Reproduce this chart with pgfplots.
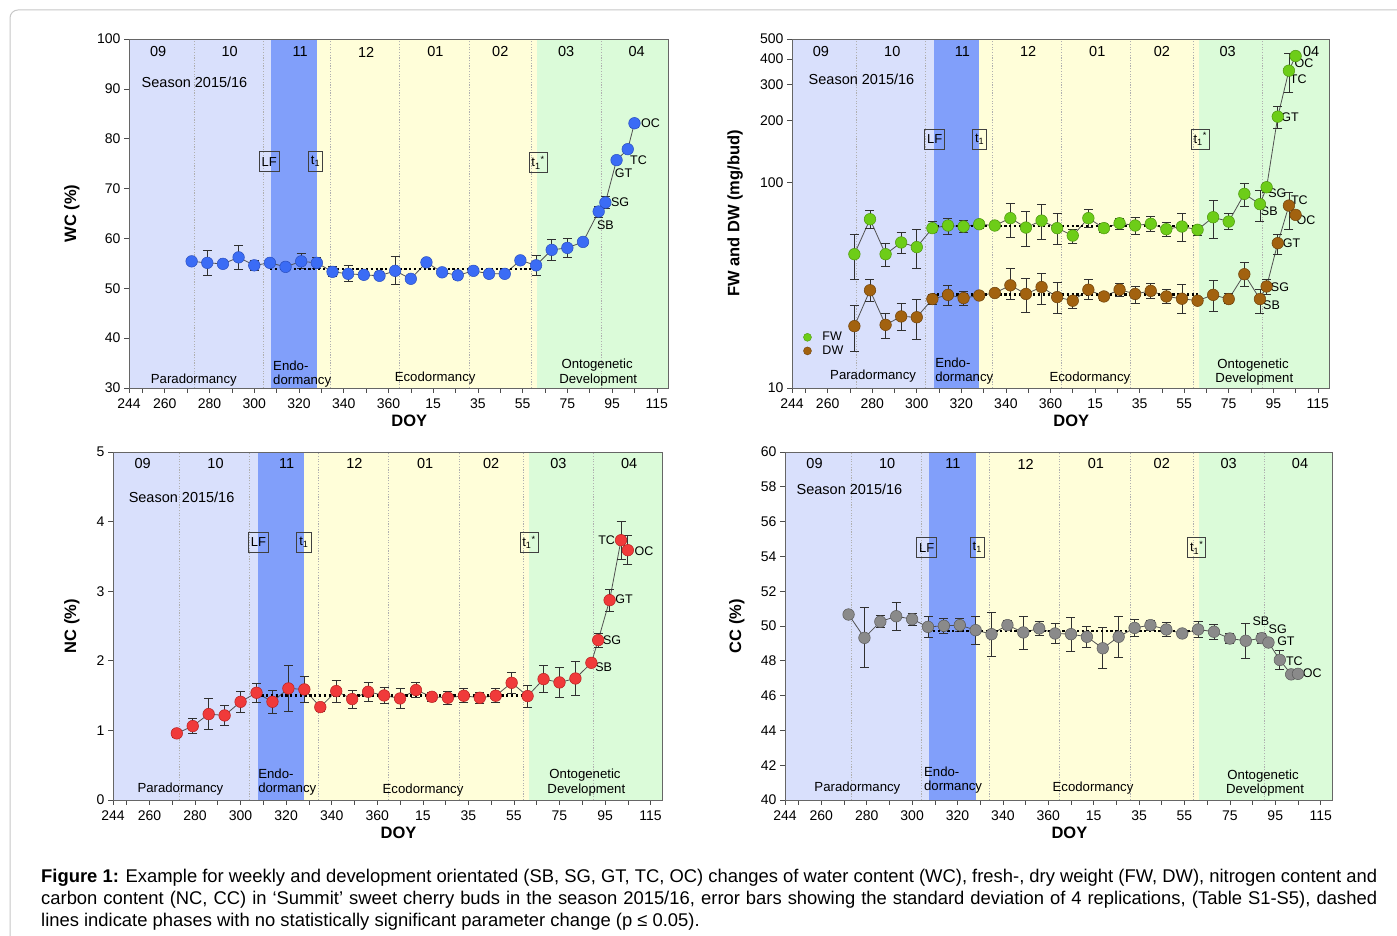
\documentclass[border=0pt]{standalone}
\usepackage{fontspec}
\setmainfont{Liberation Sans}
\setsansfont{Liberation Sans}
\usepackage{pgfplots}
\pgfplotsset{compat=1.18}
\usepackage{pgfplotstable}

\definecolor{cPara}{HTML}{D9E0FC}
\definecolor{cEndo}{HTML}{819FFA}
\definecolor{cEco}{HTML}{FFFED9}
\definecolor{cOnto}{HTML}{DBFBD9}
\definecolor{cBlue}{HTML}{3B6CF5}
\definecolor{cBlueD}{HTML}{2A4FC0}
\definecolor{cRed}{HTML}{F03A3A}
\definecolor{cRedD}{HTML}{B82020}
\definecolor{cGreen}{HTML}{6DCD18}
\definecolor{cGreenD}{HTML}{4C960E}
\definecolor{cBrown}{HTML}{A2620F}
\definecolor{cBrownD}{HTML}{6E420A}
\definecolor{cGray}{HTML}{8A8A8A}
\definecolor{cGrayD}{HTML}{5A5A5A}
\definecolor{cLine}{HTML}{505050}
\definecolor{cErr}{HTML}{303030}
\definecolor{cMonth}{HTML}{B0B0B0}

\newcommand\fs[1]{\fontsize{#1}{#1}\selectfont}

\pgfplotstableread{
x y e
272 55.4 0.3
279 55.1 2.5
286 54.9 0.3
293 56.2 2.4
300 54.6 1.0
307 55.1 0.5
314 54.3 0.3
321 55.4 1.5
328 55.1 1.1
335 53.3 1.0
342 52.9 1.6
349 52.7 0.7
356 52.5 0.8
363 53.5 2.8
370 51.9 0.3
377 55.2 0.5
384 53.2 0.3
391 52.6 0.8
398 53.5 0.4
405 52.9 0.6
412 52.9 0.5
419 55.6 0.4
426 54.6 2.0
433 57.7 2.1
440 58.1 2.0
447 59.3 0.6
454 65.4 1.1
457 67.2 1.2
462 75.7 0.4
467 77.9 0.4
470 83.1 0.8
}\wctab

\pgfplotstableread{
x y ep em
272 44.8 11.3 10.9
279 66.3 6.5 6.3
286 44.8 5.9 5.8
293 51.1 5.8 6.1
300 48.5 10.4 10.1
307 60.0 4.4 3.1
314 61.8 5.2 5.9
321 61.1 4.6 4.2
328 62.7 2.4 2.7
335 61.8 1.0 1.0
342 67.1 12.1 13.0
349 60.4 11.9 11.6
356 65.3 13.0 12.7
363 60.0 11.0 10.2
370 55.2 3.7 4.5
377 67.1 7.1 6.7
384 60.0 3.4 3.1
391 63.4 3.6 4.5
398 61.8 5.8 5.7
405 63.0 5.3 5.2
412 59.3 4.6 4.7
419 61.1 9.9 9.5
426 58.9 2.7 3.8
433 67.8 13.8 14.3
440 64.6 6.4 5.3
447 88.1 10.8 11.7
454 78.5 12.9 13.9
457 94.9 4.0 5.2
462 209.4 24.8 25.8
467 350.5 75.0 76.7
470 413.0 12.0 12.0
}\fwtab

\pgfplotstableread{
x y ep em
272 20.0 5.1 5.0
279 29.9 3.7 3.5
286 20.3 2.7 2.9
293 22.3 3.4 3.2
300 22.1 4.8 4.9
307 27.1 1.5 1.5
314 28.4 3.2 3.3
321 27.4 2.1 2.3
328 28.2 0.8 0.8
335 29.0 0.8 0.8
342 31.6 6.7 4.7
349 28.7 5.6 5.3
356 31.0 5.2 5.4
363 27.7 5.0 4.7
370 26.6 1.3 2.1
377 30.1 3.5 3.2
384 27.9 1.4 1.2
391 30.1 2.1 2.2
398 28.7 2.5 2.8
405 29.7 2.7 2.3
412 27.9 2.4 2.2
419 27.2 4.6 4.2
426 26.6 0.7 0.7
433 28.4 5.0 4.8
440 27.1 1.9 1.4
447 35.8 5.0 4.6
454 27.1 3.0 3.9
457 31.2 2.4 2.5
462 50.7 5.0 6.2
467 77.3 12.0 18.0
470 69.6 2.0 2.0
}\dwtab

\pgfplotstableread{
x y e
272 0.957 0.06
279 1.062 0.11
286 1.234 0.22
293 1.215 0.15
300 1.411 0.15
307 1.541 0.14
314 1.411 0.16
321 1.603 0.33
328 1.589 0.19
335 1.335 0.06
342 1.565 0.16
349 1.450 0.13
356 1.555 0.14
363 1.502 0.11
370 1.459 0.14
377 1.579 0.11
384 1.483 0.06
391 1.469 0.09
398 1.498 0.10
405 1.469 0.08
412 1.498 0.10
419 1.684 0.15
426 1.493 0.16
433 1.737 0.19
440 1.689 0.21
447 1.746 0.24
454 1.971 0.04
457 2.297 0.10
462 2.871 0.16
467 3.732 0.27
470 3.589 0.21
}\nctab

\pgfplotstableread{
x y e
272 50.66 0.10
279 49.32 1.72
286 50.25 0.35
293 50.56 0.80
300 50.39 0.35
307 49.95 0.63
314 50.01 0.43
321 50.05 0.36
328 49.76 0.80
335 49.53 1.27
342 50.05 0.26
349 49.63 0.95
356 49.86 0.40
363 49.57 0.57
370 49.53 0.98
377 49.38 0.62
384 48.72 1.18
391 49.38 1.19
398 49.89 0.50
405 50.05 0.29
412 49.80 0.38
419 49.57 0.10
426 49.80 0.45
433 49.67 0.42
440 49.28 0.29
447 49.15 1.00
454 49.30 0.28
457 49.05 0.21
462 48.05 0.52
467 47.22 0.17
470 47.25 0.21
}\cctab

\pgfplotsset{
  panel/.style={
    scale only axis, anchor=south west, clip=false, axis on top,
    xmin=244, xmax=485,
    xtick={244,260,280,300,320,340,360,380,400,420,440,460,480},
    xticklabels={244,260,280,300,320,340,360,15,35,55,75,95,115},
    minor xtick={250,270,290,310,330,350,370,390,410,430,450,470},
    tick align=outside, tick pos=left,
    major tick length=5pt, minor tick length=5pt,
    tick style={black!70, line width=0.6pt},
    axis line style={black!60, line width=0.7pt},
    tick label style={font=\fs{14}},
    xticklabel style={yshift=-2.5pt},
    /pgf/number format/assume math mode=true,
    scaled ticks=false,
    xlabel={DOY},
    xlabel style={font=\bfseries\fs{16.5}, at={(axis description cs:0.52,0)}, anchor=center, yshift=-33pt},
    ylabel style={font=\bfseries\fs{16.5}, anchor=center},
  },
  series/.style={color=cLine, line width=0.8pt, mark=*, mark size=5.8pt,
    error bars/y dir=both, error bars/y explicit,
    error bars/error bar style={color=cErr, line width=0.8pt, solid},
    error bars/error mark options={rotate=90, color=cErr, line width=0.8pt, mark size=4.5pt}},
  dotline/.style={black, line width=2.3pt, dash pattern=on 2.3pt off 2.5pt},
}
\tikzset{
  box/.style={draw=black!75, line width=0.7pt, font=\fs{13}, inner sep=2.5pt, minimum height=20pt},
  txt/.style={inner sep=0pt},
}

\newcommand\phases[2]{%
  \addplot[fill=cPara, draw=none, forget plot] coordinates {(244,#1) (307.5,#1) (307.5,#2) (244,#2)};
  \addplot[fill=cEndo, draw=none, forget plot] coordinates {(307.5,#1) (328,#1) (328,#2) (307.5,#2)};
  \addplot[fill=cEco, draw=none, forget plot] coordinates {(328,#1) (426.5,#1) (426.5,#2) (328,#2)};
  \addplot[fill=cOnto, draw=none, forget plot] coordinates {(426.5,#1) (485,#1) (485,#2) (426.5,#2)};
  \pgfplotsinvokeforeach{273,304,334,365,396,424,455}{%
    \addplot[cMonth, line width=0.6pt, dash pattern=on 1.2pt off 1.5pt, forget plot] coordinates {(##1,#1) (##1,#2)};}
}

\newcommand\months[3]{% y, x of 11, x of 04
  \node[txt, font=\fs{14.5}] at (axis cs:257,#1) {09};
  \node[txt, font=\fs{14.5}] at (axis cs:289,#1) {10};
  \node[txt, font=\fs{14.5}] at (axis cs:#2,#1) {11};
  \node[txt, font=\fs{14.5}] at (axis cs:350,#1) {12};
  \node[txt, font=\fs{14.5}] at (axis cs:381,#1) {01};
  \node[txt, font=\fs{14.5}] at (axis cs:410,#1) {02};
  \node[txt, font=\fs{14.5}] at (axis cs:439.5,#1) {03};
  \node[txt, font=\fs{14.5}] at (axis cs:#3,#1) {04};
}

\begin{document}
\begin{tikzpicture}[x=1pt,y=1pt]
\useasboundingbox (0,0) rectangle (1397,936);
\fill[white] (0,0) rectangle (1397,936);
\draw[black!22, line width=1pt, rounded corners=8pt] (1430,926) -- (10,926) -- (10,-20);

% ---------------- Panel 1: WC ----------------
\begin{axis}[panel, at={(129pt,548pt)}, width=539pt, height=349pt,
  ymin=30, ymax=100, ytick={30,40,...,100},
  ylabel={WC (\%)}, ylabel style={at={(axis description cs:-0.106,0.5)}}]
\phases{30}{100}
\addplot[series, mark options={fill=cBlue, draw=cBlueD, line width=0.5pt, solid}] table[x=x, y=y, y error=e] {\wctab};
\addplot[dotline] coordinates {(307,53.9) (426,53.9)};
\months{97.4}{320.5}{471}
\node[txt, font=\fs{14.5}] at (axis cs:273.3,91.4) {Season 2015/16};
\node[box] at (axis cs:306.7,75.4) {LF};
\node[box] at (axis cs:327.4,75.4) {t\textsubscript{1}};
\node[box] at (axis cs:426.9,75.2) {t\textsubscript{1}\textsuperscript{*}};
\node[txt, font=\fs{13.2}] at (axis cs:273,31.6) {Paradormancy};
\node[txt, font=\fs{13.2}, anchor=west] at (axis cs:308.4,34.4) {Endo-};
\node[txt, font=\fs{13.2}, anchor=west] at (axis cs:308.4,31.4) {dormancy};
\node[txt, font=\fs{13.2}] at (axis cs:380.9,32.0) {Ecodormancy};
\node[txt, font=\fs{13.2}] at (axis cs:453.3,34.6) {Ontogenetic};
\node[txt, font=\fs{13.2}] at (axis cs:453.8,31.6) {Development};
\node[txt, font=\fs{12.5}] at (axis cs:457,62.7) {SB};
\node[txt, font=\fs{12.5}] at (axis cs:463.6,67.2) {SG};
\node[txt, font=\fs{12.5}] at (axis cs:465.1,73.1) {GT};
\node[txt, font=\fs{12.5}] at (axis cs:471.8,75.7) {TC};
\node[txt, font=\fs{12.5}] at (axis cs:477.2,83.1) {OC};
\end{axis}

% ---------------- Panel 2: FW / DW ----------------
\begin{axis}[panel, at={(792pt,548pt)}, width=537pt, height=349pt,
  ymode=log, log basis y=10, ymin=10, ymax=500,
  ytick={10,100,200,300,400,500}, yticklabels={10,100,200,300,400,500},
  yminorticks=false,
  ylabel={FW and DW (mg/bud)}, ylabel style={at={(axis description cs:-0.106,0.5)}},
  legend style={at={(axis description cs:0.021,0.166)}, anchor=north west, draw=none, fill=none,
    font=\fs{12.5}, inner sep=0pt, row sep=-0.5pt, cells={anchor=west},
    /tikz/every odd column/.append style={column sep=9pt}},
  legend cell align=left]
\addlegendimage{only marks, mark=*, mark size=4pt, mark options={fill=cGreen, draw=cGreenD}}
\addlegendentry{FW}
\addlegendimage{only marks, mark=*, mark size=4pt, mark options={fill=cBrown, draw=cBrownD}}
\addlegendentry{DW}
\phases{10}{500}
\addplot[series, forget plot, mark options={fill=cGreen, draw=cGreenD, line width=0.5pt, solid}] table[x=x, y=y, y error plus=ep, y error minus=em] {\fwtab};
\addplot[series, forget plot, mark options={fill=cBrown, draw=cBrownD, line width=0.5pt, solid}] table[x=x, y=y, y error plus=ep, y error minus=em] {\dwtab};
\addplot[dotline, forget plot] coordinates {(307,61.6) (426,61.6)};
\addplot[dotline, forget plot] coordinates {(307,28.5) (426,28.5)};
\months{433}{320.5}{477}
\node[txt, font=\fs{14.5}] at (axis cs:275.2,319) {Season 2015/16};
\node[box] at (axis cs:308,162.5) {LF};
\node[box] at (axis cs:328.2,162.5) {t\textsubscript{1}};
\node[box] at (axis cs:427.2,163) {t\textsubscript{1}\textsuperscript{*}};
\node[txt, font=\fs{13.2}] at (axis cs:280.4,11.4) {Paradormancy};
\node[txt, font=\fs{13.2}, anchor=west] at (axis cs:308.2,13.2) {Endo-};
\node[txt, font=\fs{13.2}, anchor=west] at (axis cs:308.2,11.2) {dormancy};
\node[txt, font=\fs{13.2}] at (axis cs:377.7,11.2) {Ecodormancy};
\node[txt, font=\fs{13.2}] at (axis cs:450.9,12.94) {Ontogenetic};
\node[txt, font=\fs{13.2}] at (axis cs:451.5,11.06) {Development};
\node[txt, font=\fs{12.5}] at (axis cs:473.8,381) {OC};
\node[txt, font=\fs{12.5}] at (axis cs:471.2,318) {TC};
\node[txt, font=\fs{12.5}] at (axis cs:467.5,208) {GT};
\node[txt, font=\fs{12.5}] at (axis cs:461.8,88.7) {SG};
\node[txt, font=\fs{12.5}] at (axis cs:458.2,72.2) {SB};
\node[txt, font=\fs{12.5}] at (axis cs:471.7,82.3) {TC};
\node[txt, font=\fs{12.5}] at (axis cs:474.7,65.8) {OC};
\node[txt, font=\fs{12.5}] at (axis cs:468.2,50.4) {GT};
\node[txt, font=\fs{12.5}] at (axis cs:463,31.0) {SG};
\node[txt, font=\fs{12.5}] at (axis cs:459.2,25.4) {SB};
\end{axis}

% ---------------- Panel 3: NC ----------------
\begin{axis}[panel, at={(113pt,136pt)}, width=549pt, height=348pt,
  ymin=0, ymax=5, ytick={0,1,...,5},
  ylabel={NC (\%)}, ylabel style={at={(axis description cs:-0.075,0.5)}}]
\phases{0}{5}
\addplot[series, mark options={fill=cRed, draw=cRedD, line width=0.5pt, solid}] table[x=x, y=y, y error=e] {\nctab};
\addplot[dotline] coordinates {(307,1.50) (426,1.50)};
\months{4.83}{320.2}{470.6}
\node[txt, font=\fs{14.5}] at (axis cs:274.1,4.35) {Season 2015/16};
\node[box] at (axis cs:307.9,3.70) {LF};
\node[box] at (axis cs:327.8,3.70) {t\textsubscript{1}};
\node[box] at (axis cs:426.6,3.70) {t\textsubscript{1}\textsuperscript{*}};
\node[txt, font=\fs{13.2}] at (axis cs:273.6,0.158) {Paradormancy};
\node[txt, font=\fs{13.2}, anchor=west] at (axis cs:307.7,0.374) {Endo-};
\node[txt, font=\fs{13.2}, anchor=west] at (axis cs:307.7,0.158) {dormancy};
\node[txt, font=\fs{13.2}] at (axis cs:380.1,0.144) {Ecodormancy};
\node[txt, font=\fs{13.2}] at (axis cs:451.2,0.36) {Ontogenetic};
\node[txt, font=\fs{13.2}] at (axis cs:451.8,0.144) {Development};
\node[txt, font=\fs{12.5}] at (axis cs:460.7,3.736) {TC};
\node[txt, font=\fs{12.5}] at (axis cs:477.1,3.58) {OC};
\node[txt, font=\fs{12.5}] at (axis cs:468.3,2.89) {GT};
\node[txt, font=\fs{12.5}] at (axis cs:463.1,2.297) {SG};
\node[txt, font=\fs{12.5}] at (axis cs:459.4,1.914) {SB};
\end{axis}

% ---------------- Panel 4: CC ----------------
\begin{axis}[panel, at={(785pt,136pt)}, width=547pt, height=348pt,
  ymin=40, ymax=60, ytick={40,42,...,60},
  ylabel={CC (\%)}, ylabel style={at={(axis description cs:-0.088,0.5)}}]
\phases{40}{60}
\addplot[series, mark options={fill=cGray, draw=cGrayD, line width=0.5pt, solid}] table[x=x, y=y, y error=e] {\cctab};
\addplot[dotline] coordinates {(307,49.72) (426,49.72)};
\months{59.31}{318}{470.9}
\node[txt, font=\fs{14.5}] at (axis cs:272.4,57.87) {Season 2015/16};
\node[box] at (axis cs:306.4,54.5) {LF};
\node[box] at (axis cs:328.7,54.5) {t\textsubscript{1}};
\node[box] at (axis cs:425.4,54.5) {t\textsubscript{1}\textsuperscript{*}};
\node[txt, font=\fs{13.2}] at (axis cs:275.9,40.69) {Paradormancy};
\node[txt, font=\fs{13.2}, anchor=west] at (axis cs:305.2,41.61) {Endo-};
\node[txt, font=\fs{13.2}, anchor=west] at (axis cs:305.2,40.75) {dormancy};
\node[txt, font=\fs{13.2}] at (axis cs:379.7,40.69) {Ecodormancy};
\node[txt, font=\fs{13.2}] at (axis cs:454.6,41.38) {Ontogenetic};
\node[txt, font=\fs{13.2}] at (axis cs:455.5,40.57) {Development};
\node[txt, font=\fs{12.5}] at (axis cs:453.7,50.29) {SB};
\node[txt, font=\fs{12.5}] at (axis cs:461.1,49.81) {SG};
\node[txt, font=\fs{12.5}] at (axis cs:464.7,49.14) {GT};
\node[txt, font=\fs{12.5}] at (axis cs:468.4,47.99) {TC};
\node[txt, font=\fs{12.5}] at (axis cs:476.3,47.28) {OC};
\end{axis}

% ---------------- Caption ----------------
\node[anchor=base west, inner sep=0pt, font=\fs{18.4}] at (41,53) {\makebox[1336pt][s]{\textbf{Figure 1:} Example for weekly and development orientated (SB, SG, GT, TC, OC) changes of water content (WC), fresh-, dry weight (FW, DW), nitrogen content and}};
\node[anchor=base west, inner sep=0pt, font=\fs{18.4}] at (41,31) {\makebox[1336pt][s]{carbon content (NC, CC) in ‘Summit’ sweet cherry buds in the season 2015/16, error bars showing the standard deviation of 4 replications, (Table S1-S5), dashed}};
\node[anchor=base west, inner sep=0pt, font=\fs{18.4}] at (41,9) {lines indicate phases with no statistically significant parameter change (p ≤ 0.05).};
\end{tikzpicture}
\end{document}
